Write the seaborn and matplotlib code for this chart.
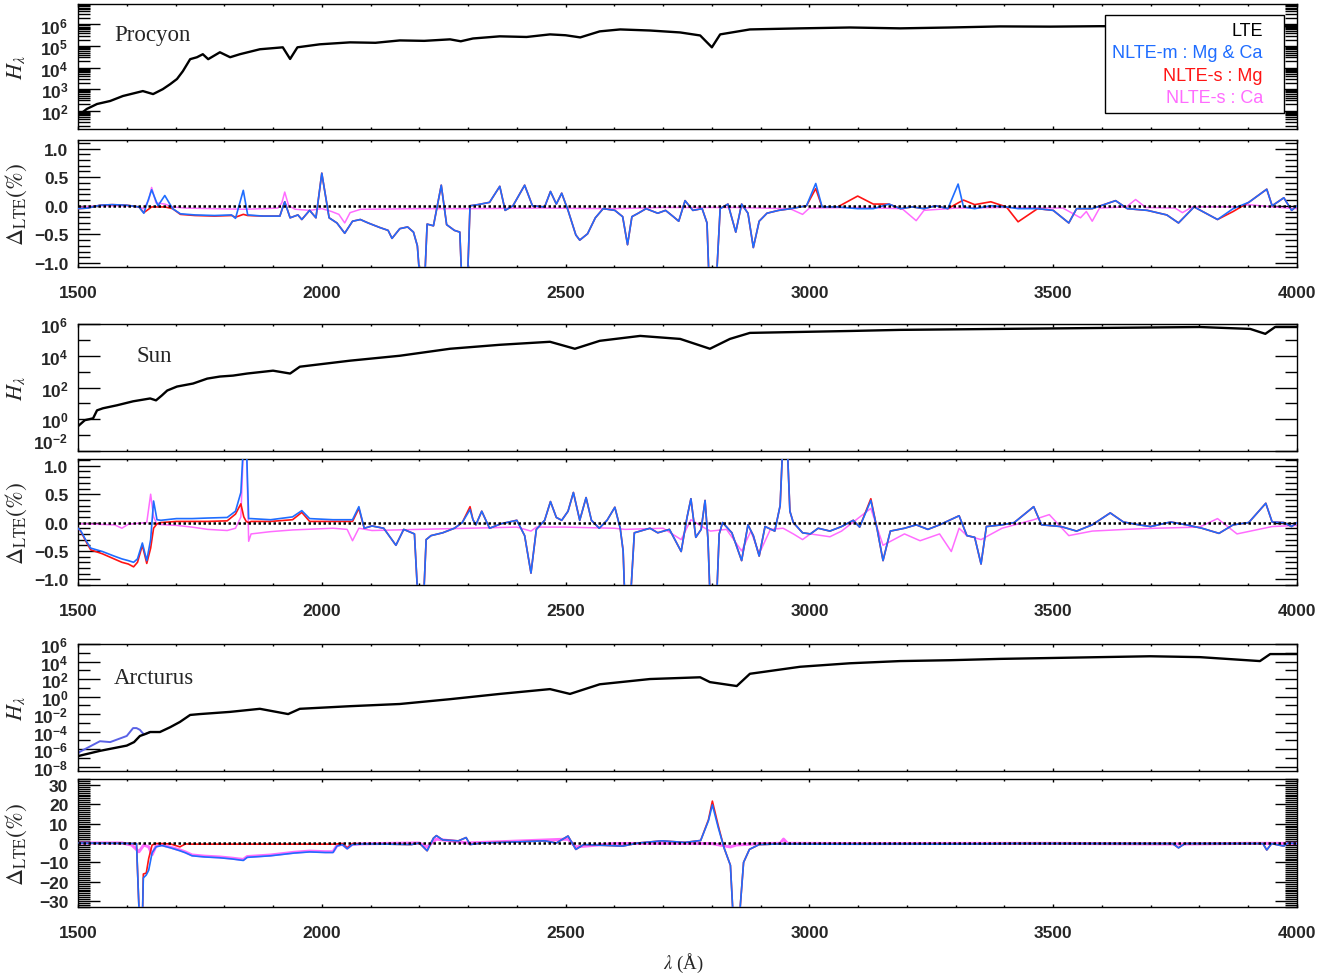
import matplotlib
matplotlib.use("Agg")
import matplotlib.pyplot as plt
from matplotlib import ticker
from matplotlib.lines import Line2D
import seaborn as sns

# ---------------------------------------------------------------- data
WL_MIN, WL_MAX = 1500, 4000

# emergent flux, log10 of H_lambda (LTE)
PRO_H_WL = [1500, 1518, 1539, 1566, 1592, 1633, 1654, 1674, 1689, 1703,
            1715, 1730, 1744, 1756, 1767, 1791, 1812, 1832, 1873, 1920,
            1935, 1950, 1996, 2058, 2110, 2160, 2210, 2263, 2285, 2310,
            2365, 2420, 2468, 2500, 2530, 2570, 2612, 2673, 2735, 2776,
            2800, 2817, 2878, 2981, 3083, 3186, 3289, 3391, 3494, 3596,
            3699, 3801, 3900, 4000]
PRO_H_LTE = [1.76, 2.08, 2.31, 2.45, 2.68, 2.91, 2.77, 3.00, 3.23, 3.47,
             3.83, 4.39, 4.48, 4.62, 4.39, 4.71, 4.48, 4.62, 4.85, 4.94,
             4.40, 4.94, 5.08, 5.17, 5.15, 5.26, 5.24, 5.31, 5.22, 5.35,
             5.45, 5.42, 5.54, 5.50, 5.40, 5.68, 5.77, 5.72, 5.63, 5.49,
             4.94, 5.54, 5.77, 5.82, 5.86, 5.82, 5.86, 5.91, 5.90, 5.92,
             5.91, 5.92, 5.91, 5.92]

SUN_H_WL = [1500, 1514, 1531, 1539, 1551, 1580, 1613, 1648, 1660, 1672,
            1683, 1703, 1736, 1765, 1791, 1818, 1847, 1900, 1935, 1955,
            2058, 2160, 2263, 2365, 2468, 2519, 2570, 2653, 2735, 2796,
            2837, 2878, 2981, 3083, 3186, 3391, 3596, 3801, 3904, 3935,
            3955, 4000]
SUN_H_LTE = [-0.44, -0.06, 0.06, 0.56, 0.69, 0.88, 1.13, 1.31, 1.19, 1.50,
             1.81, 2.06, 2.25, 2.56, 2.69, 2.75, 2.88, 3.06, 2.88, 3.31,
             3.69, 4.00, 4.44, 4.69, 4.88, 4.44, 4.94, 5.25, 5.06, 4.44,
             5.06, 5.44, 5.50, 5.56, 5.63, 5.69, 5.75, 5.81, 5.69, 5.38,
             5.81, 5.81]

ARC_H_WL = [1500, 1545, 1600, 1615, 1627, 1637, 1648, 1668, 1689, 1709,
            1730, 1750, 1812, 1873, 1931, 1955, 2058, 2160, 2263, 2365,
            2468, 2509, 2570, 2673, 2776, 2796, 2851, 2878, 2981, 3083,
            3186, 3289, 3391, 3494, 3596, 3699, 3801, 3924, 3945, 4000]
ARC_H_LTE = [-6.8, -6.2, -5.6, -5.2, -4.5, -4.3, -4.05, -4.05, -3.5, -2.9,
             -2.1, -2.0, -1.75, -1.4, -2.0, -1.4, -1.1, -0.85, -0.3, 0.3,
             0.85, 0.3, 1.4, 2.0, 2.2, 1.65, 1.2, 2.6, 3.4, 3.8,
             4.05, 4.15, 4.3, 4.4, 4.5, 4.6, 4.5, 4.05, 4.85, 4.85]
ARC_H_NLTEM_WL = [1500, 1504, 1545, 1566, 1600, 1613, 1620, 1627, 1633, 1637, 1648]
ARC_H_NLTEM = [-6.5, -6.3, -5.1, -5.2, -4.5, -3.6, -3.6, -3.8, -4.2, -4.3, -4.05]

# Procyon: relative difference to LTE (%)
PRO_WL = [1500, 1520, 1545, 1570, 1600, 1625, 1635, 1651, 1664, 1678,
          1694, 1710, 1740, 1780, 1815, 1823, 1839, 1848, 1880, 1914,
          1919, 1924, 1935, 1951, 1959, 1975, 1988, 2000, 2015, 2031,
          2047, 2063, 2079, 2095, 2119, 2136, 2144, 2160, 2176, 2188,
          2196, 2203, 2210, 2216, 2229, 2245, 2256, 2272, 2283, 2288,
          2298, 2304, 2320, 2344, 2365, 2376, 2392, 2416, 2432, 2457,
          2469, 2481, 2492, 2505, 2521, 2529, 2545, 2561, 2577, 2601,
          2617, 2627, 2636, 2649, 2665, 2689, 2705, 2721, 2732, 2745,
          2761, 2780, 2790, 2795, 2808, 2817, 2833, 2849, 2861, 2874,
          2885, 2897, 2913, 2937, 2962, 2994, 3013, 3026, 3058, 3099,
          3131, 3163, 3187, 3211, 3235, 3259, 3284, 3305, 3316, 3339,
          3372, 3404, 3428, 3468, 3500, 3532, 3548, 3580, 3628, 3652,
          3693, 3733, 3757, 3789, 3837, 3869, 3901, 3938, 3949, 3973,
          3989, 4000]
PRO_NLTEM = [-0.05, -0.04, 0.01, 0.02, 0.01, -0.02, -0.13, 0.28, 0.00, 0.18,
             -0.05, -0.14, -0.16, -0.17, -0.16, -0.22, 0.27, -0.16, -0.18, -0.18,
             -0.05, 0.07, -0.21, -0.16, -0.24, -0.08, -0.21, 0.57, -0.21, -0.30,
             -0.48, -0.27, -0.24, -0.30, -0.38, -0.43, -0.57, -0.40, -0.37, -0.46,
             -0.70, -1.50, -1.50, -0.32, -0.35, 0.36, -0.33, -0.43, -0.46, -1.50,
             -1.50, 0.00, 0.02, 0.06, 0.34, -0.08, 0.00, 0.36, 0.00, -0.02,
             0.25, 0.03, 0.22, -0.08, -0.51, -0.60, -0.49, -0.21, -0.05, -0.08,
             -0.19, -0.68, -0.19, -0.13, -0.05, -0.13, -0.08, -0.19, -0.27, 0.09,
             -0.08, -0.05, -0.30, -1.50, -1.50, -0.05, 0.03, -0.46, 0.03, -0.13,
             -0.73, -0.27, -0.13, -0.08, -0.05, 0.00, 0.39, -0.02, -0.02, -0.05,
             -0.05, 0.03, -0.05, -0.02, -0.05, 0.00, -0.05, 0.38, -0.02, -0.05,
             0.00, -0.02, -0.05, -0.05, -0.08, -0.30, -0.05, -0.05, 0.09, -0.05,
             -0.08, -0.16, -0.30, -0.02, -0.24, -0.05, 0.06, 0.29, 0.00, 0.14,
             -0.08, 0.00]
PRO_NLTES_MG = [-0.05, -0.04, 0.01, 0.02, 0.01, -0.02, -0.12, -0.02, -0.02, -0.02,
                -0.05, -0.15, -0.17, -0.18, -0.17, -0.20, -0.15, -0.17, -0.18, -0.18,
                -0.05, 0.07, -0.21, -0.16, -0.24, -0.08, -0.21, 0.57, -0.21, -0.30,
                -0.48, -0.27, -0.24, -0.30, -0.38, -0.43, -0.57, -0.40, -0.37, -0.46,
                -0.70, -1.50, -1.50, -0.32, -0.35, 0.36, -0.33, -0.43, -0.46, -1.50,
                -1.50, 0.00, 0.02, 0.06, 0.34, -0.08, 0.00, 0.36, 0.00, -0.02,
                0.25, 0.03, 0.22, -0.08, -0.51, -0.60, -0.49, -0.21, -0.05, -0.08,
                -0.19, -0.68, -0.19, -0.13, -0.05, -0.13, -0.08, -0.19, -0.27, 0.09,
                -0.08, -0.05, -0.30, -1.50, -1.50, -0.05, 0.03, -0.46, 0.03, -0.13,
                -0.73, -0.27, -0.13, -0.08, -0.05, 0.00, 0.30, -0.02, -0.02, 0.17,
                0.03, 0.03, -0.05, -0.02, -0.05, 0.00, -0.05, 0.05, 0.10, 0.02,
                0.07, -0.02, -0.28, -0.05, -0.08, -0.30, -0.05, -0.05, 0.09, -0.05,
                -0.08, -0.16, -0.30, -0.02, -0.24, -0.10, 0.06, 0.29, 0.00, 0.14,
                -0.08, 0.00]
PRO_CA_WL = [1500, 1540, 1600, 1625, 1635, 1645, 1651, 1660, 1678, 1694,
             1720, 1780, 1840, 1880, 1910, 1918, 1924, 1932, 1945, 1975,
             2000, 2020, 2035, 2047, 2058, 2080, 2200, 2300, 2450, 2600,
             2700, 2850, 2960, 2986, 3000, 3100, 3190, 3219, 3235, 3300,
             3400, 3520, 3556, 3568, 3580, 3595, 3650, 3669, 3690, 3750,
             3765, 3785, 3880, 3901, 3950, 4000]
PRO_NLTES_CA = [-0.03, 0.00, 0.00, -0.02, -0.05, 0.10, 0.32, 0.05, 0.03, -0.02,
                -0.04, -0.05, -0.06, -0.05, -0.04, 0.05, 0.24, 0.00, -0.06, -0.08,
                -0.05, -0.10, -0.15, -0.30, -0.12, -0.06, -0.05, -0.05, -0.04, -0.05,
                -0.03, -0.03, -0.05, -0.15, -0.04, -0.03, -0.05, -0.26, -0.08, -0.04,
                -0.03, -0.04, -0.21, -0.10, -0.27, -0.04, -0.02, 0.11, -0.03, -0.04,
                -0.12, -0.02, -0.02, 0.02, -0.02, -0.05]

# Sun
SUN_WL = [1500, 1506, 1518, 1526, 1550, 1574, 1590, 1603, 1614, 1622,
          1632, 1641, 1649, 1655, 1662, 1670, 1702, 1734, 1766, 1806,
          1823, 1834, 1840, 1845, 1850, 1855, 1895, 1940, 1959, 1975,
          2023, 2063, 2076, 2087, 2103, 2127, 2152, 2168, 2190, 2198,
          2208, 2214, 2224, 2248, 2272, 2288, 2304, 2310, 2316, 2328,
          2344, 2368, 2400, 2416, 2429, 2440, 2457, 2469, 2481, 2492,
          2505, 2516, 2529, 2542, 2553, 2569, 2585, 2601, 2612, 2618,
          2622, 2632, 2641, 2673, 2689, 2713, 2737, 2749, 2757, 2767,
          2778, 2786, 2792, 2797, 2809, 2815, 2822, 2841, 2861, 2874,
          2885, 2897, 2909, 2929, 2940, 2946, 2954, 2960, 2967, 2986,
          3002, 3018, 3042, 3066, 3090, 3103, 3126, 3139, 3151, 3166,
          3195, 3219, 3243, 3267, 3307, 3323, 3339, 3352, 3363, 3395,
          3420, 3460, 3476, 3516, 3548, 3580, 3617, 3644, 3676, 3700,
          3741, 3773, 3805, 3840, 3869, 3901, 3936, 3949, 3973, 3989,
          4000]
SUN_NLTEM = [-0.10, -0.15, -0.34, -0.45, -0.51, -0.59, -0.64, -0.67, -0.70, -0.64,
             -0.36, -0.67, -0.30, 0.38, 0.05, 0.04, 0.07, 0.07, 0.08, 0.09,
             0.20, 0.53, 1.50, 1.50, 0.07, 0.07, 0.05, 0.10, 0.21, 0.07,
             0.05, 0.05, 0.28, -0.10, -0.06, -0.10, -0.40, -0.12, -0.20, -1.50,
             -1.50, -0.30, -0.23, -0.18, -0.10, 0.00, 0.23, 0.05, -0.04, 0.20,
             -0.10, -0.02, 0.04, -0.23, -0.89, -0.12, 0.04, 0.37, 0.09, 0.04,
             0.20, 0.53, 0.04, 0.44, 0.04, -0.10, 0.04, 0.27, -0.10, -0.50,
             -1.50, -1.50, -0.18, -0.10, -0.18, -0.12, -0.51, 0.09, 0.42, -0.26,
             -0.12, 0.39, -0.30, -1.50, -1.50, -0.20, 0.00, -0.18, -0.67, -0.04,
             -0.23, -0.59, -0.07, -0.15, 0.30, 1.50, 1.50, 0.20, 0.00, -0.18,
             -0.20, -0.10, -0.15, -0.07, 0.04, -0.08, 0.39, -0.12, -0.67, -0.15,
             -0.10, -0.04, -0.12, -0.04, 0.12, -0.23, -0.26, -0.73, -0.07, -0.04,
             0.00, 0.28, -0.04, -0.07, -0.15, -0.04, 0.17, 0.01, -0.04, -0.07,
             0.01, -0.04, -0.10, -0.19, -0.04, 0.00, 0.34, 0.01, 0.00, -0.07,
             0.00]
SUN_NLTES_MG = [-0.10, -0.16, -0.36, -0.48, -0.55, -0.64, -0.70, -0.73, -0.78, -0.70,
                -0.40, -0.72, -0.45, -0.10, -0.02, 0.00, 0.02, 0.02, 0.02, 0.03,
                0.15, 0.33, 0.10, 0.02, 0.00, 0.02, 0.02, 0.05, 0.18, 0.02,
                0.02, 0.02, 0.25, -0.10, -0.06, -0.10, -0.40, -0.12, -0.20, -1.50,
                -1.50, -0.30, -0.23, -0.18, -0.10, 0.00, 0.28, 0.05, -0.04, 0.20,
                -0.10, -0.02, 0.04, -0.23, -0.89, -0.12, 0.04, 0.37, 0.09, 0.04,
                0.20, 0.53, 0.04, 0.44, 0.04, -0.10, 0.04, 0.27, -0.10, -0.50,
                -1.50, -1.50, -0.18, -0.10, -0.18, -0.12, -0.51, 0.09, 0.42, -0.26,
                -0.12, 0.39, -0.30, -1.50, -1.50, -0.20, 0.00, -0.18, -0.67, -0.04,
                -0.23, -0.59, -0.07, -0.15, 0.30, 1.50, 1.50, 0.20, 0.00, -0.18,
                -0.20, -0.10, -0.15, -0.07, 0.04, -0.08, 0.42, -0.12, -0.67, -0.15,
                -0.10, -0.04, -0.12, -0.04, 0.12, -0.23, -0.26, -0.73, -0.07, -0.04,
                0.00, 0.28, -0.04, -0.07, -0.15, -0.04, 0.17, 0.01, -0.04, -0.07,
                0.01, -0.04, -0.10, -0.19, -0.04, 0.00, 0.34, 0.01, 0.00, -0.07,
                0.00]
SUN_CA_WL = [1500, 1540, 1575, 1590, 1603, 1641, 1649, 1655, 1662, 1702,
             1734, 1766, 1806, 1823, 1834, 1840, 1845, 1850, 1855, 1895,
             1940, 2023, 2052, 2063, 2076, 2103, 2152, 2198, 2300, 2400,
             2429, 2440, 2500, 2600, 2622, 2700, 2737, 2757, 2786, 2797,
             2830, 2861, 2880, 2897, 2920, 2946, 2967, 2986, 3002, 3042,
             3066, 3126, 3151, 3195, 3227, 3267, 3291, 3307, 3323, 3352,
             3395, 3460, 3492, 3532, 3580, 3649, 3709, 3800, 3837, 3877,
             3949, 4000]
SUN_NLTES_CA = [-0.02, -0.03, -0.04, -0.10, -0.03, 0.00, 0.50, 0.10, -0.03, -0.05,
                -0.08, -0.12, -0.14, -0.10, 0.10, 1.50, 1.50, -0.33, -0.20, -0.16,
                -0.13, -0.10, -0.12, -0.32, -0.10, -0.14, -0.13, -0.12, -0.10, -0.08,
                -0.15, -0.08, -0.08, -0.10, -0.12, -0.10, -0.30, 0.05, -0.10, -0.15,
                -0.12, -0.50, -0.15, -0.55, -0.12, -0.10, -0.20, -0.30, -0.20, -0.25,
                -0.15, 0.25, -0.40, -0.20, -0.32, -0.20, -0.51, -0.10, -0.23, -0.30,
                -0.10, 0.05, 0.14, -0.23, -0.15, -0.12, -0.10, -0.08, 0.07, -0.20,
                -0.07, -0.05]

# Arcturus
ARC_WL = [1500, 1600, 1620, 1626, 1632, 1634, 1640, 1645, 1652, 1660,
          1672, 1690, 1709, 1720, 1734, 1760, 1790, 1815, 1839, 1847,
          1895, 1943, 1975, 2007, 2023, 2031, 2042, 2052, 2063, 2087,
          2136, 2184, 2200, 2216, 2229, 2235, 2248, 2280, 2296, 2304,
          2328, 2392, 2457, 2481, 2505, 2521, 2537, 2617, 2649, 2697,
          2745, 2777, 2793, 2801, 2813, 2825, 2838, 2844, 2856, 2865,
          2877, 2897, 2937, 3018, 3099, 3179, 3259, 3339, 3420, 3580,
          3745, 3757, 3770, 3901, 3930, 3938, 3948, 3973, 3981, 4000]
ARC_NLTEM = [0.0, -0.2, -0.3, -40.0, -40.0, -18.0, -16.5, -14.0, -5.0, -2.0,
             -1.3, -2.5, -4.0, -5.0, -6.6, -7.2, -7.6, -8.2, -9.0, -7.4,
             -6.6, -5.2, -4.6, -4.9, -4.9, -1.6, -0.8, -3.0, -0.8, -0.5,
             -0.6, -0.8, 0.0, -4.0, 2.5, 3.8, 1.6, 1.1, 2.8, -0.8,
             0.0, 0.5, 1.1, 0.0, 3.6, -3.3, -0.8, -1.6, 0.0, 1.1,
             0.3, 1.3, 11.5, 19.7, 8.0, -2.5, -11.5, -40.0, -40.0, -10.0,
             -3.3, -0.8, -0.5, -0.6, -0.6, -0.5, -0.6, -0.5, -0.3, -0.3,
             -0.3, -2.5, -0.3, -0.3, -0.3, -3.6, -0.3, -1.6, 0.0, -0.3]
ARC_NLTES_MG = [0.0, -0.2, -0.3, -40.0, -40.0, -16.0, -15.5, -8.0, -1.0, -0.3,
                -0.3, -0.5, -2.0, -0.5, -0.6, -0.6, -0.6, -0.6, -0.6, -0.6,
                -0.6, -0.6, -0.6, -0.6, -0.6, -0.5, -0.3, -2.5, -0.3, -0.5,
                -0.6, -0.8, 0.0, -4.0, 2.5, 3.8, 1.6, 1.1, 2.8, -0.8,
                0.0, 0.5, 1.1, 0.0, 3.6, -3.3, -0.8, -1.6, 0.0, 1.1,
                0.3, 1.3, 12.0, 21.6, 9.0, -2.5, -11.5, -40.0, -40.0, -10.0,
                -3.3, -0.8, -0.5, -0.6, -0.6, -0.5, -0.6, -0.5, -0.3, -0.3,
                -0.3, -2.5, -0.3, -0.3, -0.3, -3.6, -0.3, -1.6, 0.0, -0.3]
ARC_CA_WL = [1500, 1590, 1610, 1625, 1635, 1645, 1652, 1660, 1672, 1690,
             1709, 1720, 1734, 1760, 1790, 1815, 1839, 1847, 1895, 1943,
             1975, 2007, 2023, 2031, 2042, 2052, 2063, 2087, 2200, 2216,
             2235, 2300, 2505, 2521, 2600, 2700, 2800, 2838, 2850, 2900,
             2940, 2947, 2955, 3100, 3500, 3757, 3900, 4000]
ARC_NLTES_CA = [0.0, 0.0, -1.0, -4.5, -1.0, -2.0, -6.0, -1.5, -1.0, -2.2,
                -3.6, -4.6, -6.2, -6.8, -7.2, -7.8, -8.5, -7.0, -6.2, -4.8,
                -4.2, -4.5, -4.5, -1.4, -0.6, -2.6, -0.6, -0.4, 0.0, -2.0,
                2.0, 0.0, 2.0, -2.0, -0.3, -0.2, -0.3, -2.0, -1.0, -0.3,
                -0.2, 2.0, -0.2, -0.3, -0.2, -0.5, -0.2, -0.2]

LEGEND_LABELS = ["LTE", "NLTE-m : Mg & Ca", "NLTE-s : Mg", "NLTE-s : Ca"]
STARS = ["Procyon", "Sun", "Arcturus"]

# ---------------------------------------------------------------- style
C_LTE = "black"
C_NLTEM = "#1f6dff"
C_MG = "#ff1414"
C_CA = "#ff6cff"

sns.set_style("ticks")
plt.rcParams["font.family"] = ["Liberation Sans", "DejaVu Sans"]
plt.rcParams["mathtext.fontset"] = "stix"
plt.rcParams["axes.linewidth"] = 1.0

fig = plt.figure(figsize=(13.44, 9.78), dpi=100)
L, W = 78 / 1344, 1219 / 1344


def panel(top_px, bottom_px):
    return fig.add_axes([L, 1 - bottom_px / 978, W, (bottom_px - top_px) / 978])


def style(ax, xlabels):
    ax.set_xlim(WL_MIN, WL_MAX)
    ax.xaxis.set_major_locator(ticker.MultipleLocator(500))
    ax.xaxis.set_minor_locator(ticker.MultipleLocator(100))
    ax.tick_params(axis="both", which="both", direction="in", top=True,
                   right=True, color="black", width=1.0)
    ax.tick_params(axis="x", which="major", length=2.5, pad=13,
                   labelsize=12.5, labelbottom=xlabels)
    ax.tick_params(axis="x", which="minor", length=1.3)
    ax.tick_params(axis="y", which="major", length=16, pad=7, labelsize=12.5)
    ax.tick_params(axis="y", which="minor", length=8.5)
    for lab in ax.get_xticklabels() + ax.get_yticklabels():
        lab.set_fontweight("bold")
    for s in ax.spines.values():
        s.set_color("black")
        s.set_linewidth(1.0)
    ax.set_xlabel("")
    ax.yaxis.label.set_verticalalignment("center")
    ax.yaxis.set_label_coords(-0.051, 0.5)


def line(ax, x, y, color, lw, z):
    sns.lineplot(x=x, y=y, ax=ax, color=color, lw=lw, estimator=None,
                 sort=False, legend=False, zorder=z)


def flux_panel(ax, wl, logh, ylog, major, minor, name, name_xy,
               nltem=None):
    if nltem is not None:
        line(ax, nltem[0], [10 ** v for v in nltem[1]], "#5a62e6", 1.4, 2)
    line(ax, wl, [10 ** v for v in logh], C_LTE, 1.7, 3)
    ax.set_yscale("log")
    ax.set_ylim(10 ** ylog[0], 10 ** ylog[1])
    if major is None:
        ax.yaxis.set_major_locator(ticker.LogLocator(base=10, numticks=20))
        ax.yaxis.set_minor_locator(ticker.LogLocator(base=10, subs=range(2, 10), numticks=40))
    else:
        ax.yaxis.set_major_locator(ticker.FixedLocator([10.0 ** e for e in major]))
        ax.yaxis.set_minor_locator(ticker.FixedLocator([10.0 ** e for e in minor]))
    ax.yaxis.set_major_formatter(ticker.LogFormatterMathtext())
    ax.yaxis.set_minor_formatter(ticker.NullFormatter())
    ax.set_ylabel(r"$H_{\lambda}$", fontsize=16)
    ax.text(name_xy[0], name_xy[1], name, transform=ax.transAxes,
            family="Liberation Serif", fontsize=16.5, va="center", ha="left")
    style(ax, False)


def delta_panel(ax, wl, m, mg, ca_wl, ca, ylim, major, minor, ca_lw=1.1):
    line(ax, ca_wl, ca, C_CA, ca_lw, 2)
    line(ax, wl, mg, C_MG, 1.2, 3)
    line(ax, wl, m, C_NLTEM, 1.2, 4)
    ax.axhline(0, color="black", lw=1.8, ls=(0, (1, 1)), zorder=6)
    ax.set_ylim(*ylim)
    ax.yaxis.set_major_locator(ticker.MultipleLocator(major))
    ax.yaxis.set_minor_locator(ticker.MultipleLocator(minor))
    ax.set_ylabel(r"$\Delta_{\rm LTE}(\%)$", fontsize=17)
    style(ax, True)


# Procyon
ax1 = panel(5, 130)
flux_panel(ax1, PRO_H_WL, PRO_H_LTE, (1.15, 6.95), None, None,
           STARS[0], (0.030, 0.76))
handles = [Line2D([], [], color=c) for c in (C_LTE, C_NLTEM, C_MG, C_CA)]
leg = ax1.legend(handles, LEGEND_LABELS, loc="upper right",
                 bbox_to_anchor=(0.989, 0.915), handlelength=0,
                 handletextpad=0.75, markerfirst=False, labelcolor="linecolor",
                 alignment="right", fontsize=13, frameon=True, fancybox=False,
                 framealpha=1, edgecolor="black", borderpad=0.4,
                 labelspacing=0.3, borderaxespad=0)
leg.get_frame().set_linewidth(1.0)
leg.set_zorder(10)

ax2 = panel(141, 268)
delta_panel(ax2, PRO_WL, PRO_NLTEM, PRO_NLTES_MG, PRO_CA_WL, PRO_NLTES_CA,
            (-1.07, 1.15), 0.5, 0.1)

# Sun
ax3 = panel(325, 452)
flux_panel(ax3, SUN_H_WL, SUN_H_LTE, (-2, 6), [-2, 0, 2, 4, 6], [-1, 1, 3, 5],
           STARS[1], (0.048, 0.75))
# keep the lowest flux label clear of the panel below
ax3.yaxis.get_major_ticks()[0].label1.set_verticalalignment("bottom")

ax4 = panel(460, 586)
delta_panel(ax4, SUN_WL, SUN_NLTEM, SUN_NLTES_MG, SUN_CA_WL, SUN_NLTES_CA,
            (-1.1, 1.12), 0.5, 0.1)

# Arcturus
ax5 = panel(645, 772)
flux_panel(ax5, ARC_H_WL, ARC_H_LTE, (-8.5, 6.0),
           [-8, -6, -4, -2, 0, 2, 4, 6], [-7, -5, -3, -1, 1, 3, 5],
           STARS[2], (0.029, 0.74), nltem=(ARC_H_NLTEM_WL, ARC_H_NLTEM))

ax6 = panel(780, 908)
delta_panel(ax6, ARC_WL, ARC_NLTEM, ARC_NLTES_MG, ARC_CA_WL, ARC_NLTES_CA,
            (-33, 33), 10, 1, ca_lw=2.2)

fig.text(683 / 1344, 1 - 963 / 978, r"$\lambda$ (Å)", ha="center", va="center",
         family="Liberation Serif", fontsize=13.5)

fig.savefig("out.png", dpi=100)
